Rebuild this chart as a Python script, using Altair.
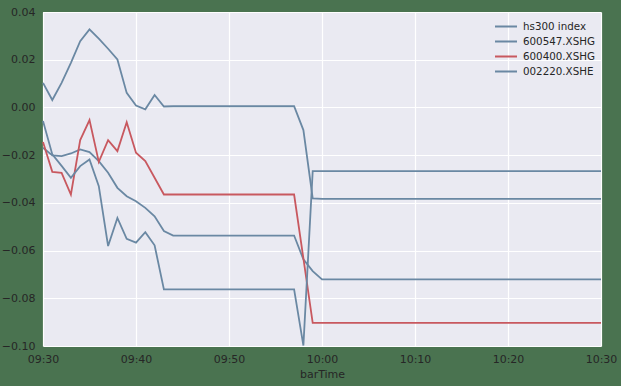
import altair as alt
import pandas as pd

names = ["hs300 index", "600547.XSHG", "600400.XSHG", "002220.XSHE"]

times = pd.date_range("2017-01-03 09:30", "2017-01-03 10:30", freq="1min").strftime("%Y-%m-%dT%H:%M:%S").tolist()
tick_times = ["09:30", "09:40", "09:50", "10:00", "10:10", "10:20", "10:30"]

hs300 = [-0.0169, -0.0201, -0.0204, -0.0193, -0.0176, -0.0187, -0.0225, -0.0274, -0.0337, -0.0372,
         -0.0393, -0.0421, -0.0456, -0.0518, -0.0537, -0.0537, -0.0537, -0.0537, -0.0537, -0.0537,
         -0.0537, -0.0537, -0.0537, -0.0537, -0.0537, -0.0537, -0.0537, -0.0537, -0.0637, -0.0686,
         -0.0721, -0.0721, -0.0721, -0.0721, -0.0721, -0.0721, -0.0721, -0.0721, -0.0721, -0.0721,
         -0.0721, -0.0721, -0.0721, -0.0721, -0.0721, -0.0721, -0.0721, -0.0721, -0.0721, -0.0721,
         -0.0721, -0.0721, -0.0721, -0.0721, -0.0721, -0.0721, -0.0721, -0.0721, -0.0721, -0.0721,
         -0.0721]
s600547 = [0.0103, 0.0031, 0.0103, 0.0187, 0.0278, 0.0327, 0.0288, 0.0246, 0.0201, 0.0061,
           0.0008, -0.0008, 0.0052, 0.0004, 0.0005, 0.0005, 0.0005, 0.0005, 0.0005, 0.0005,
           0.0005, 0.0005, 0.0005, 0.0005, 0.0005, 0.0005, 0.0005, 0.0005, -0.0095, -0.0381,
           -0.0383, -0.0383, -0.0383, -0.0383, -0.0383, -0.0383, -0.0383, -0.0383, -0.0383, -0.0383,
           -0.0383, -0.0383, -0.0383, -0.0383, -0.0383, -0.0383, -0.0383, -0.0383, -0.0383, -0.0383,
           -0.0383, -0.0383, -0.0383, -0.0383, -0.0383, -0.0383, -0.0383, -0.0383, -0.0383, -0.0383,
           -0.0383]
s600400 = [-0.0145, -0.0270, -0.0274, -0.0365, -0.0137, -0.0053, -0.0228, -0.0137, -0.0183, -0.0062,
           -0.0190, -0.0225, -0.0295, -0.0365, -0.0365, -0.0365, -0.0365, -0.0365, -0.0365, -0.0365,
           -0.0365, -0.0365, -0.0365, -0.0365, -0.0365, -0.0365, -0.0365, -0.0365, -0.0633, -0.0903,
           -0.0903, -0.0903, -0.0903, -0.0903, -0.0903, -0.0903, -0.0903, -0.0903, -0.0903, -0.0903,
           -0.0903, -0.0903, -0.0903, -0.0903, -0.0903, -0.0903, -0.0903, -0.0903, -0.0903, -0.0903,
           -0.0903, -0.0903, -0.0903, -0.0903, -0.0903, -0.0903, -0.0903, -0.0903, -0.0903, -0.0903,
           -0.0903]
s002220 = [-0.0057, -0.0197, -0.0245, -0.0295, -0.0246, -0.0218, -0.0330, -0.0581, -0.0463, -0.0551,
           -0.0567, -0.0523, -0.0578, -0.0763, -0.0763, -0.0763, -0.0763, -0.0763, -0.0763, -0.0763,
           -0.0763, -0.0763, -0.0763, -0.0763, -0.0763, -0.0763, -0.0763, -0.0763, -0.0998, -0.0267,
           -0.0267, -0.0267, -0.0267, -0.0267, -0.0267, -0.0267, -0.0267, -0.0267, -0.0267, -0.0267,
           -0.0267, -0.0267, -0.0267, -0.0267, -0.0267, -0.0267, -0.0267, -0.0267, -0.0267, -0.0267,
           -0.0267, -0.0267, -0.0267, -0.0267, -0.0267, -0.0267, -0.0267, -0.0267, -0.0267, -0.0267,
           -0.0267]

series = [hs300, s600547, s600400, s002220]
rows = []
for name, vals in zip(names, series):
    for t, v in zip(times, vals):
        rows.append({"barTime": t, "value": v, "series": name})
df = pd.DataFrame(rows)


def dt(hm):
    h, m = hm.split(":")
    return alt.DateTime(year=2017, month=1, date=3, hours=int(h), minutes=int(m))


BLUE = "#6a88a3"
RED = "#c8585f"
FONT = "DejaVu Sans"
TXT = "#262626"

chart = alt.Chart(df).mark_line(strokeWidth=1.8).encode(
    x=alt.X("barTime:T",
            scale=alt.Scale(domain=[dt("09:30"), dt("10:30")], nice=False),
            axis=alt.Axis(title="barTime", format="%H:%M",
                          values=[dt(s) for s in tick_times],
                          grid=True, gridColor="white", gridWidth=1.2,
                          domain=False, ticks=False, labelPadding=7,
                          labelFlush=False, labelAlign="center", labelOverlap=False,
                          labelFontSize=11, labelColor=TXT, labelFont=FONT,
                          titleFont=FONT, titleFontSize=11, titleFontWeight="normal",
                          titleColor=TXT, titlePadding=4)),
    y=alt.Y("value:Q",
            scale=alt.Scale(domain=[-0.10, 0.04], nice=False, zero=False),
            axis=alt.Axis(title=None, values=[-0.10, -0.08, -0.06, -0.04, -0.02, 0.0, 0.02, 0.04],
                          labelExpr="replace(format(datum.value, '.2f'), '-', '\u2212')",
                          grid=True, gridColor="white", gridWidth=1.2,
                          domain=False, ticks=False, labelPadding=8,
                          labelFlush=False, labelOverlap=False,
                          labelFontSize=11, labelColor=TXT, labelFont=FONT)),
    color=alt.Color("series:N",
                    scale=alt.Scale(domain=names, range=[BLUE, BLUE, RED, BLUE]),
                    legend=alt.Legend(title=None, orient="none", legendX=451, legendY=7,
                                      symbolType="stroke", symbolSize=484, symbolStrokeWidth=2,
                                      labelFont=FONT, labelFontSize=10.3, labelColor=TXT,
                                      clipHeight=15, rowPadding=0, labelOffset=5, padding=0)),
).properties(
    width=558, height=334,
    padding={"left": 43, "top": 12, "right": 20, "bottom": 40},
    autosize="none",
    background="#4a7350",
).configure_view(
    fill="#eaeaf2", stroke=None
)

chart.save("out.html", embed_options={"renderer": "svg", "actions": False})
